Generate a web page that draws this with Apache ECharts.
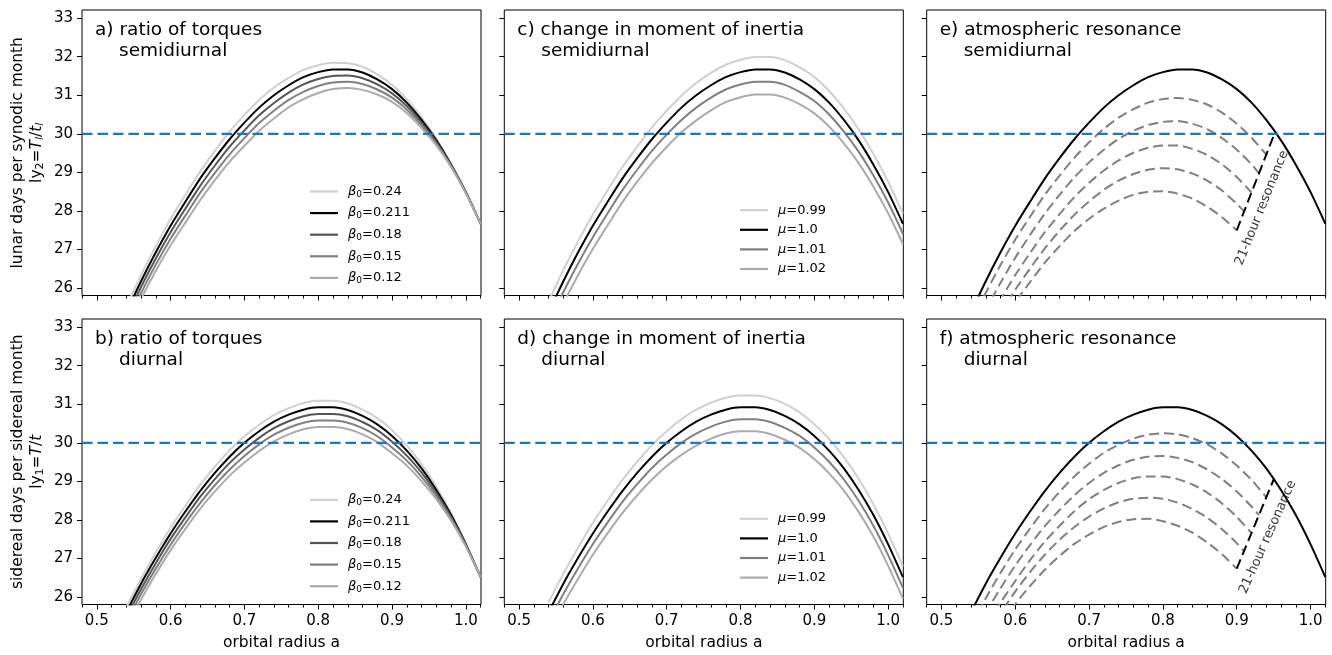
<!DOCTYPE html>
<html>
<head>
<meta charset="utf-8">
<script src="https://cdn.jsdelivr.net/npm/echarts@6/dist/echarts.min.js"></script>
<style>
html, body { margin: 0; padding: 0; background: #fff; }
#main { width: 1332px; height: 655px; }
</style>
</head>
<body>
<div id="main"></div>
<script>
// orbital radius samples (shared by the full curves)
const aGrid = [0.54, 0.56, 0.58, 0.60, 0.62, 0.64, 0.66, 0.68, 0.70, 0.72, 0.74, 0.76, 0.78,
  0.80, 0.82, 0.84, 0.86, 0.88, 0.90, 0.92, 0.94, 0.96, 0.98, 1.00, 1.02];

// semidiurnal base curve (beta0 = 0.211, mu = 1.0)
const semiBase = [25.37, 26.18, 26.93, 27.62, 28.24, 28.84, 29.37, 29.86, 30.29, 30.68, 31.00, 31.26, 31.47, 31.60, 31.67, 31.67, 31.59, 31.41, 31.16, 30.81, 30.36, 29.83, 29.20, 28.49, 27.67];
// diurnal base curve
const diurBase = [25.61, 26.35, 27.02, 27.65, 28.22, 28.75, 29.22, 29.64, 30.00, 30.30, 30.55, 30.73, 30.86, 30.92, 30.92, 30.85, 30.70, 30.48, 30.18, 29.80, 29.34, 28.78, 28.13, 27.37, 26.52];

// a) ratio of torques, semidiurnal
const semiB024 = [25.52, 26.34, 27.09, 27.79, 28.42, 29.02, 29.56, 30.06, 30.49, 30.88, 31.20, 31.45, 31.66, 31.78, 31.84, 31.83, 31.74, 31.54, 31.27, 30.90, 30.43, 29.88, 29.22, 28.50, 27.67];
const semiB018 = [25.22, 26.03, 26.77, 27.45, 28.06, 28.65, 29.18, 29.67, 30.09, 30.48, 30.80, 31.07, 31.28, 31.42, 31.50, 31.51, 31.44, 31.28, 31.05, 30.72, 30.29, 29.79, 29.18, 28.48, 27.67];
const semiB015 = [25.07, 25.87, 26.61, 27.28, 27.88, 28.47, 28.99, 29.47, 29.89, 30.28, 30.60, 30.88, 31.09, 31.24, 31.33, 31.35, 31.29, 31.15, 30.94, 30.63, 30.22, 29.74, 29.16, 28.47, 27.67];
const semiB012 = [24.92, 25.72, 26.45, 27.11, 27.70, 28.28, 28.80, 29.28, 29.69, 30.08, 30.40, 30.69, 30.90, 31.06, 31.16, 31.19, 31.14, 31.02, 30.83, 30.54, 30.15, 29.70, 29.14, 28.46, 27.67];

// b) ratio of torques, diurnal
const diurB024 = [25.74, 26.48, 27.16, 27.80, 28.37, 28.91, 29.38, 29.81, 30.17, 30.47, 30.72, 30.90, 31.03, 31.09, 31.09, 31.02, 30.86, 30.64, 30.33, 29.93, 29.45, 28.86, 28.18, 27.39, 26.52];
const diurB018 = [25.48, 26.21, 26.88, 27.51, 28.07, 28.60, 29.06, 29.48, 29.83, 30.13, 30.38, 30.56, 30.69, 30.75, 30.75, 30.69, 30.54, 30.33, 30.03, 29.67, 29.23, 28.70, 28.08, 27.35, 26.52];
const diurB015 = [25.35, 26.08, 26.74, 27.36, 27.92, 28.44, 28.90, 29.31, 29.66, 29.96, 30.21, 30.39, 30.52, 30.58, 30.58, 30.52, 30.38, 30.17, 29.88, 29.54, 29.12, 28.62, 28.03, 27.33, 26.52];
const diurB012 = [25.22, 25.94, 26.60, 27.22, 27.77, 28.29, 28.74, 29.15, 29.49, 29.79, 30.04, 30.22, 30.35, 30.41, 30.41, 30.36, 30.22, 30.02, 29.73, 29.41, 29.01, 28.54, 27.98, 27.31, 26.52];

// c) moment of inertia, semidiurnal
const semiMu099 = [25.65, 26.47, 27.22, 27.91, 28.54, 29.14, 29.67, 30.17, 30.60, 30.99, 31.32, 31.58, 31.79, 31.92, 31.99, 31.99, 31.91, 31.72, 31.47, 31.11, 30.66, 30.12, 29.48, 28.76, 27.93];
const semiMu101 = [25.09, 25.90, 26.64, 27.32, 27.94, 28.54, 29.07, 29.56, 29.98, 30.36, 30.68, 30.94, 31.15, 31.28, 31.35, 31.35, 31.27, 31.09, 30.85, 30.50, 30.06, 29.54, 28.92, 28.22, 27.41];
const semiMu102 = [24.80, 25.60, 26.34, 27.02, 27.63, 28.23, 28.76, 29.24, 29.66, 30.04, 30.35, 30.61, 30.82, 30.95, 31.02, 31.02, 30.94, 30.77, 30.53, 30.19, 29.75, 29.24, 28.63, 27.94, 27.14];

// d) moment of inertia, diurnal
const diurMu099 = [25.87, 26.61, 27.29, 27.93, 28.50, 29.04, 29.51, 29.94, 30.30, 30.61, 30.86, 31.04, 31.17, 31.23, 31.23, 31.16, 31.01, 30.79, 30.48, 30.10, 29.63, 29.07, 28.41, 27.65, 26.80];
const diurMu101 = [25.35, 26.08, 26.75, 27.38, 27.94, 28.47, 28.93, 29.35, 29.70, 30.00, 30.24, 30.42, 30.55, 30.61, 30.61, 30.54, 30.39, 30.18, 29.88, 29.51, 29.05, 28.50, 27.85, 27.09, 26.24];
const diurMu102 = [25.09, 25.82, 26.48, 27.10, 27.66, 28.18, 28.64, 29.05, 29.40, 29.69, 29.93, 30.11, 30.24, 30.30, 30.30, 30.23, 30.08, 29.87, 29.58, 29.21, 28.76, 28.21, 27.57, 26.81, 25.96];

// atmospheric resonance branches: x samples end on the 21-hour line
const resX1 = [0.54, 0.56, 0.58, 0.60, 0.62, 0.64, 0.66, 0.68, 0.70, 0.72, 0.74, 0.76, 0.78, 0.80, 0.82, 0.84, 0.86, 0.88, 0.90, 0.92, 0.94];
const resX2 = [0.54, 0.56, 0.58, 0.60, 0.62, 0.64, 0.66, 0.68, 0.70, 0.72, 0.74, 0.76, 0.78, 0.80, 0.82, 0.84, 0.86, 0.88, 0.90, 0.92, 0.93];
const resX3 = [0.54, 0.56, 0.58, 0.60, 0.62, 0.64, 0.66, 0.68, 0.70, 0.72, 0.74, 0.76, 0.78, 0.80, 0.82, 0.84, 0.86, 0.88, 0.90, 0.92];
const resX4 = [0.54, 0.56, 0.58, 0.60, 0.62, 0.64, 0.66, 0.68, 0.70, 0.72, 0.74, 0.76, 0.78, 0.80, 0.82, 0.84, 0.86, 0.88, 0.90, 0.91];
const resX5 = [0.54, 0.56, 0.58, 0.60, 0.62, 0.64, 0.66, 0.68, 0.70, 0.72, 0.74, 0.76, 0.78, 0.80, 0.82, 0.84, 0.86, 0.88, 0.90];

// e) semidiurnal resonance branches
const semiRes1 = [25.09, 25.88, 26.60, 27.26, 27.85, 28.42, 28.92, 29.38, 29.78, 30.13, 30.42, 30.64, 30.81, 30.90, 30.93, 30.88, 30.76, 30.55, 30.26, 29.90, 29.46];
const semiRes2 = [24.66, 25.43, 26.14, 26.79, 27.38, 27.93, 28.42, 28.87, 29.26, 29.59, 29.87, 30.08, 30.23, 30.31, 30.33, 30.26, 30.12, 29.89, 29.59, 29.21, 28.98];
const semiRes3 = [24.25, 25.01, 25.70, 26.34, 26.91, 27.45, 27.92, 28.36, 28.73, 29.05, 29.31, 29.51, 29.64, 29.70, 29.70, 29.61, 29.45, 29.21, 28.88, 28.48];
const semiRes4 = [23.93, 24.67, 25.34, 25.96, 26.51, 27.03, 27.49, 27.90, 28.25, 28.55, 28.79, 28.96, 29.07, 29.11, 29.08, 28.97, 28.79, 28.53, 28.19, 27.99];
const semiRes5 = [23.68, 24.39, 25.04, 25.63, 26.16, 26.66, 27.09, 27.48, 27.80, 28.06, 28.27, 28.42, 28.50, 28.51, 28.45, 28.32, 28.11, 27.84, 27.50];
const semiLineX = [0.90, 0.952];
const semiLineY = [27.50, 30.05];

// f) diurnal resonance branches
const diurRes1 = [25.24, 25.97, 26.63, 27.24, 27.78, 28.29, 28.73, 29.13, 29.46, 29.74, 29.95, 30.11, 30.21, 30.25, 30.22, 30.12, 29.96, 29.72, 29.41, 29.04, 28.59];
const diurRes2 = [24.88, 25.59, 26.23, 26.82, 27.35, 27.84, 28.26, 28.64, 28.96, 29.22, 29.42, 29.56, 29.64, 29.66, 29.61, 29.50, 29.31, 29.06, 28.74, 28.35, 28.13];
const diurRes3 = [24.61, 25.25, 25.86, 26.42, 26.96, 27.44, 27.85, 28.23, 28.54, 28.78, 28.96, 29.08, 29.13, 29.13, 29.06, 28.92, 28.71, 28.43, 28.08, 27.66];
const diurRes4 = [24.38, 25.01, 25.58, 26.15, 26.65, 27.10, 27.49, 27.82, 28.09, 28.30, 28.46, 28.55, 28.58, 28.55, 28.45, 28.28, 28.06, 27.76, 27.40, 27.19];
const diurRes5 = [24.01, 24.68, 25.28, 25.82, 26.29, 26.71, 27.07, 27.38, 27.62, 27.82, 27.95, 28.02, 28.03, 27.97, 27.85, 27.67, 27.42, 27.11, 26.74];
const diurLineX = [0.90, 0.95];
const diurLineY = [26.74, 29.05];

const refLevel = 30;

// axes
const xTicks = [0.5, 0.6, 0.7, 0.8, 0.9, 1.0];
const xMinorTicks = [0.48, 0.50, 0.52, 0.54, 0.56, 0.58, 0.60, 0.62, 0.64, 0.66, 0.68, 0.70, 0.72,
  0.74, 0.76, 0.78, 0.80, 0.82, 0.84, 0.86, 0.88, 0.90, 0.92, 0.94, 0.96, 0.98, 1.00, 1.02];
const yTicks = [26, 27, 28, 29, 30, 31, 32, 33];
const X_MIN = 0.48, X_MAX = 1.0205, Y_MIN = 25.81, Y_MAX = 33.21;

const FONT = 'DejaVu Sans';
const gridLefts = [82, 504.3, 926.7];
const gridTops = [10, 319];
const GW = 399, GH = 285.5;

// panel order: a, b, c, d, e, f  -> (col, row)
const panels = [
  { col: 0, row: 0, t1: 'a) ratio of torques', t2: 'semidiurnal' },
  { col: 0, row: 1, t1: 'b) ratio of torques', t2: 'diurnal' },
  { col: 1, row: 0, t1: 'c) change in moment of inertia', t2: 'semidiurnal' },
  { col: 1, row: 1, t1: 'd) change in moment of inertia', t2: 'diurnal' },
  { col: 2, row: 0, t1: 'e) atmospheric resonance', t2: 'semidiurnal' },
  { col: 2, row: 1, t1: 'f) atmospheric resonance', t2: 'diurnal' }
];

const grids = [], xAxes = [], yAxes = [], titles = [], series = [];

panels.forEach((p, i) => {
  grids.push({
    left: gridLefts[p.col], top: gridTops[p.row], width: GW, height: GH,
    show: true, borderColor: '#000', borderWidth: 1, backgroundColor: 'transparent'
  });
  xAxes.push({
    type: 'value', gridIndex: i, min: X_MIN, max: X_MAX, position: 'bottom',
    axisLine: { show: false }, splitLine: { show: false },
    axisTick: { show: true, length: 5, customValues: xTicks, lineStyle: { color: '#000', width: 1 } },
    axisLabel: {
      show: p.row === 1, customValues: xTicks, margin: 9, color: '#000',
      fontSize: 15, fontFamily: FONT, formatter: v => v.toFixed(1)
    },
    name: p.row === 1 ? 'orbital radius a' : '',
    nameLocation: 'middle', nameGap: 30,
    nameTextStyle: { color: '#000', fontSize: 15.5, fontFamily: FONT }
  });
  xAxes.push({
    type: 'value', gridIndex: i, min: X_MIN, max: X_MAX, position: 'bottom',
    axisLine: { show: false }, splitLine: { show: false }, axisLabel: { show: false },
    axisTick: { show: true, length: 3, customValues: xMinorTicks, lineStyle: { color: '#000', width: 1 } }
  });
  yAxes.push({
    type: 'value', gridIndex: i, min: Y_MIN, max: Y_MAX,
    axisLine: { show: false }, splitLine: { show: false },
    axisTick: { show: true, length: 5, customValues: yTicks, lineStyle: { color: '#000', width: 1 } },
    axisLabel: {
      show: p.col === 0, customValues: yTicks, margin: 9, color: '#000',
      fontSize: 15, fontFamily: FONT
    }
  });
  const tx = gridLefts[p.col] + 13;
  const ty = gridTops[p.row];
  titles.push({ text: p.t1, left: tx, top: ty + 10, padding: 0,
    textStyle: { fontSize: 18.5, fontWeight: 'normal', color: '#000', fontFamily: FONT, lineHeight: 21 } });
  titles.push({ text: p.t2, left: tx + 24, top: ty + 31, padding: 0,
    textStyle: { fontSize: 18.5, fontWeight: 'normal', color: '#000', fontFamily: FONT, lineHeight: 21 } });
});

function curve(name, gi, xs, ys, color, dashed) {
  return {
    name: name, type: 'line', xAxisIndex: gi * 2, yAxisIndex: gi,
    data: xs.map((x, k) => [x, ys[k]]),
    smooth: 0.25, symbol: 'none', showSymbol: false, silent: true,
    lineStyle: { color: color, width: 2, type: dashed ? [10, 5] : 'solid' },
    itemStyle: { color: color },
    z: 3
  };
}
function refLine(gi) {
  return {
    name: 'ref', type: 'line', xAxisIndex: gi * 2, yAxisIndex: gi,
    data: [[X_MIN, refLevel], [X_MAX, refLevel]],
    symbol: 'none', silent: true,
    lineStyle: { color: '#1f77b4', width: 2.3, type: [10.5, 5] }, z: 6
  };
}
function note(gi, pos, angle) {
  return {
    type: 'scatter', xAxisIndex: gi * 2, yAxisIndex: gi, silent: true,
    data: [pos], symbolSize: 1, itemStyle: { color: 'transparent' },
    label: {
      show: true, position: 'inside', rotate: angle, formatter: '21-hour resonance',
      color: '#000', fontSize: 13, fontFamily: FONT
    }, z: 7
  };
}

const betaColors = ['#d0d0d0', '#000000', '#555555', '#808080', '#ababab'];
const betaNames = ['β0=0.24', 'β0=0.211', 'β0=0.18', 'β0=0.15', 'β0=0.12'];
const muColors = ['#d0d0d0', '#000000', '#808080', '#ababab'];
const muNames = ['μ=0.99', 'μ=1.0', 'μ=1.01', 'μ=1.02'];

// a
[semiB024, semiBase, semiB018, semiB015, semiB012].forEach((ys, k) =>
  series.push(curve(betaNames[k], 0, aGrid, ys, betaColors[k])));
series.push(refLine(0));
// b
[diurB024, diurBase, diurB018, diurB015, diurB012].forEach((ys, k) =>
  series.push(curve(betaNames[k], 1, aGrid, ys, betaColors[k])));
series.push(refLine(1));
// c
[semiMu099, semiBase, semiMu101, semiMu102].forEach((ys, k) =>
  series.push(curve(muNames[k], 2, aGrid, ys, muColors[k])));
series.push(refLine(2));
// d
[diurMu099, diurBase, diurMu101, diurMu102].forEach((ys, k) =>
  series.push(curve(muNames[k], 3, aGrid, ys, muColors[k])));
series.push(refLine(3));
// e
series.push(curve('semi', 4, aGrid, semiBase, '#000'));
[[resX1, semiRes1], [resX2, semiRes2], [resX3, semiRes3], [resX4, semiRes4], [resX5, semiRes5]]
  .forEach(([xs, ys]) => series.push(curve('res', 4, xs, ys, '#808080', true)));
series.push(curve('21h', 4, semiLineX, semiLineY, '#000', true));
series.push(refLine(4));
series.push(note(4, [0.934, 28.08], 68));
// f
series.push(curve('diur', 5, aGrid, diurBase, '#000'));
[[resX1, diurRes1], [resX2, diurRes2], [resX3, diurRes3], [resX4, diurRes4], [resX5, diurRes5]]
  .forEach(([xs, ys]) => series.push(curve('res', 5, xs, ys, '#808080', true)));
series.push(curve('21h', 5, diurLineX, diurLineY, '#000', true));
series.push(refLine(5));
series.push(note(5, [0.942, 27.56], 66));

const legendRich = {
  g: { fontSize: 13, fontStyle: 'italic', fontFamily: FONT, color: '#000', padding: [0, 0, 0, 5], lineHeight: 14 },
  s: { fontSize: 9, fontFamily: FONT, color: '#000', padding: [6, 0, 0, 0], lineHeight: 14 },
  t: { fontSize: 13, fontFamily: FONT, color: '#000', lineHeight: 14 }
};
function legendFmt(name) {
  const parts = name.split('=');
  if (parts[0] === 'β0') return '{g|β}{s|0}{t|=' + parts[1] + '}';
  return '{g|μ}{t|=' + parts[1] + '}';
}
function legend(names, left, top) {
  return {
    data: names, left: left, top: top, orient: 'vertical', padding: 0,
    itemWidth: 28, itemHeight: 2.2, itemGap: 6.6, icon: 'rect', selectedMode: false,
    formatter: legendFmt, textStyle: { rich: legendRich, fontFamily: FONT, color: '#000' }
  };
}

const yRich = {
  n: { fontSize: 15.5, fontFamily: FONT, color: '#000', lineHeight: 19 },
  i: { fontSize: 15.5, fontFamily: FONT, fontStyle: 'italic', color: '#000', lineHeight: 19 },
  sub: { fontSize: 11, fontFamily: FONT, color: '#000', padding: [6, 0, 0, 0], lineHeight: 19 },
  isub: { fontSize: 11, fontFamily: FONT, fontStyle: 'italic', color: '#000', padding: [6, 0, 0, 0], lineHeight: 19 }
};

const chart = echarts.init(document.getElementById('main'), null, { renderer: 'canvas' });
chart.setOption({
  animation: false,
  backgroundColor: '#fff',
  title: titles,
  grid: grids,
  xAxis: xAxes,
  yAxis: yAxes,
  legend: [
    legend(betaNames, 310, 184),
    legend(betaNames, 310, 492.3),
    legend(muNames, 740, 203.7),
    legend(muNames, 740, 512.3)
  ],
  graphic: [
    { type: 'text', x: 27.5, y: gridTops[0] + GH / 2, rotation: Math.PI / 2,
      style: { text: '{n|lunar days per synodic month}\n{n|ly}{sub|2}{n|=}{i|T}{isub|l}{n|/}{i|t}{isub|l}',
        rich: yRich, align: 'center', verticalAlign: 'middle' } },
    { type: 'text', x: 27.5, y: gridTops[1] + GH / 2, rotation: Math.PI / 2,
      style: { text: '{n|sidereal days per sidereal month}\n{n|ly}{sub|1}{n|=}{i|T}{n|/}{i|t}',
        rich: yRich, align: 'center', verticalAlign: 'middle' } }
  ],
  series: series
});
</script>
</body>
</html>
